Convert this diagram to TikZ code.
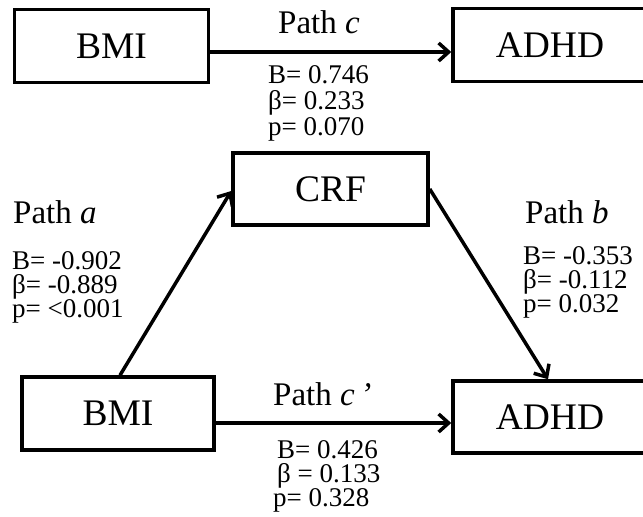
\documentclass[tikz,border=0pt]{standalone}
\usepackage{fontspec}
\setmainfont{Liberation Serif}
\usetikzlibrary{arrows.meta}
\tikzset{
  varbox/.style={draw, line width=3.5pt, rectangle, inner sep=0pt,
    minimum width=194pt, minimum height=73pt, font=\fontsize{37.5}{40}\selectfont},
  pathlbl/.style={anchor=base west, inner sep=0pt, font=\fontsize{33}{35}\selectfont},
  vallbl/.style={anchor=base west, inner sep=0pt, text height=16pt, text depth=3pt,
    font=\fontsize{27}{27}\selectfont},
  arr/.style={line width=3.5pt, -{Straight Barb[length=10pt,width=18pt,line width=3.5pt]}}
}
\begin{document}
\begin{tikzpicture}[x=1pt,y=-1pt]
\useasboundingbox (0,0) rectangle (643,517);
\clip (0,0) rectangle (643,517);
\fill[white] (0,0) rectangle (643,517);
% boxes
\node[varbox] (bmi1) at (111.5,46) {BMI};
\node[varbox] (adhd1) at (550,45) {ADHD};
\node[varbox, minimum width=195pt, minimum height=72pt] (crf) at (330.5,189) {CRF};
\node[varbox, minimum width=192pt] (bmi2) at (118,413.5) {BMI};
\node[varbox, minimum height=72pt] (adhd2) at (550,417) {ADHD};
% arrows
\draw[arr] ([yshift=-6pt]bmi1.east) -- ([yshift=-7pt]adhd1.west);
\draw[arr] ([yshift=-9.5pt]bmi2.east) -- ([yshift=-6pt]adhd2.west);
\draw[arr] ([xshift=2pt]bmi2.north) -- ([yshift=-2pt]crf.west);
\draw[arr] (crf.east) -- ([xshift=-2pt]adhd2.north);
% path c
\node[pathlbl] (pc) at (278,33) {Path \textit{c}};
\node[vallbl] (pc1) at (268,83) {B= 0.746};
\node[vallbl] (pc2) at (268,109) {β= 0.233};
\node[vallbl] (pc3) at (268,135) {p= 0.070};
% path a
\node[pathlbl] (pa) at (13,223) {Path \textit{a}};
\node[vallbl] (pa1) at (12,269) {B= -0.902};
\node[vallbl] (pa2) at (12,293) {β= -0.889};
\node[vallbl] (pa3) at (12,317) {p= <0.001};
% path b
\node[pathlbl] (pb) at (525,223) {Path \textit{b}};
\node[vallbl] (pb1) at (523,264) {B= -0.353};
\node[vallbl] (pb2) at (523,288) {β= -0.112};
\node[vallbl] (pb3) at (523,312) {p= 0.032};
% path c'
\node[pathlbl] (pcp) at (273,405) {Path \textit{c\,’}};
\node[vallbl] (pcp1) at (277,458) {B= 0.426};
\node[vallbl] (pcp2) at (277,482) {β = 0.133};
\node[vallbl] (pcp3) at (273,506) {p= 0.328};
\end{tikzpicture}
\end{document}
